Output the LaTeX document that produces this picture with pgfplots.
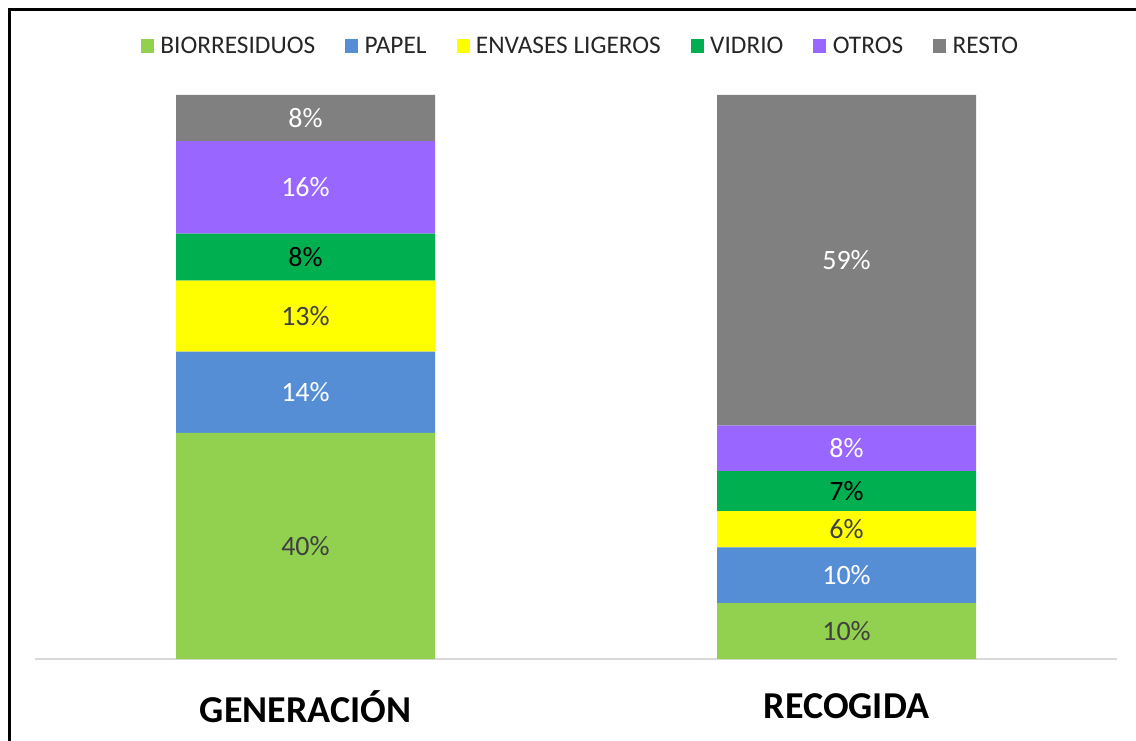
\documentclass[border=0pt]{standalone}
\usepackage{pgfplots}
\pgfplotsset{compat=1.18}
\usepackage{fontspec}
\setmainfont{Carlito}
\definecolor{cBio}{HTML}{92D050}
\definecolor{cPap}{HTML}{558ED5}
\definecolor{cEnv}{HTML}{FFFF00}
\definecolor{cVid}{HTML}{00B050}
\definecolor{cOtr}{HTML}{9966FF}
\definecolor{cRes}{HTML}{808080}
\definecolor{cTxt}{HTML}{404040}
\definecolor{cLeg}{HTML}{262626}
\begin{document}
\begin{tikzpicture}
\useasboundingbox (0,0) rectangle (852pt,555pt);
\draw[line width=2pt,black] (7pt,-20pt) -- (7pt,548pt) -- (880pt,548pt);
\begin{axis}[
  at={(26.25pt,60.75pt)}, anchor=south west,
  scale only axis, width=811.5pt, height=423pt,
  ybar stacked, bar width=194.25pt,
  xmin=-0.5, xmax=1.5, ymin=0, ymax=100,
  enlarge y limits=false, enlarge x limits=false, clip=false,
  axis x line*=bottom, axis y line=none,
  x axis line style={-, draw=black!15, line width=1.1pt},
  xtick={0,1}, xticklabels={GENERACIÓN, RECOGIDA},
  major tick length=0pt,
  xticklabel style={anchor=center, yshift=-35.5pt, font=\bfseries\fontsize{28.5}{30}\selectfont, text=black},
  ytick=\empty,
  nodes near coords={\pgfmathprintnumber[fixed,precision=0,assume math mode=true]{\pgfplotspointmeta}\%},
  every node near coord/.append style={anchor=center, font=\fontsize{21}{21}\selectfont},
  legend columns=6,
  legend cell align=left,
  legend image code/.code={\fill[#1] (0pt,-4.9pt) rectangle (9.75pt,4.9pt); \path (12.5pt,0pt);},
  legend style={at={(0.5,1)}, anchor=center, yshift=36.75pt, xshift=3.75pt, draw=none, fill=none,
    font=\fontsize{19}{19}\selectfont, text=cLeg,
    /tikz/every even column/.append style={column sep=20.5pt}},
]
\addplot[fill=cBio, draw=none, every node near coord/.append style={text=cTxt}] coordinates {(0,40.1) (1,9.9)};
\addlegendentry{BIORRESIDUOS}
\addplot[fill=cPap, draw=none, every node near coord/.append style={text=white}] coordinates {(0,14.4) (1,9.9)};
\addlegendentry{PAPEL}
\addplot[fill=cEnv, draw=none, every node near coord/.append style={text=cTxt}] coordinates {(0,12.6) (1,6.4)};
\addlegendentry{ENVASES LIGEROS}
\addplot[fill=cVid, draw=none, every node near coord/.append style={text=black}] coordinates {(0,8.3) (1,7.1)};
\addlegendentry{VIDRIO}
\addplot[fill=cOtr, draw=none, every node near coord/.append style={text=white}] coordinates {(0,16.4) (1,8.1)};
\addlegendentry{OTROS}
\addplot[fill=cRes, draw=none, every node near coord/.append style={text=white}] coordinates {(0,8.2) (1,58.6)};
\addlegendentry{RESTO}
\end{axis}
\end{tikzpicture}
\end{document}
